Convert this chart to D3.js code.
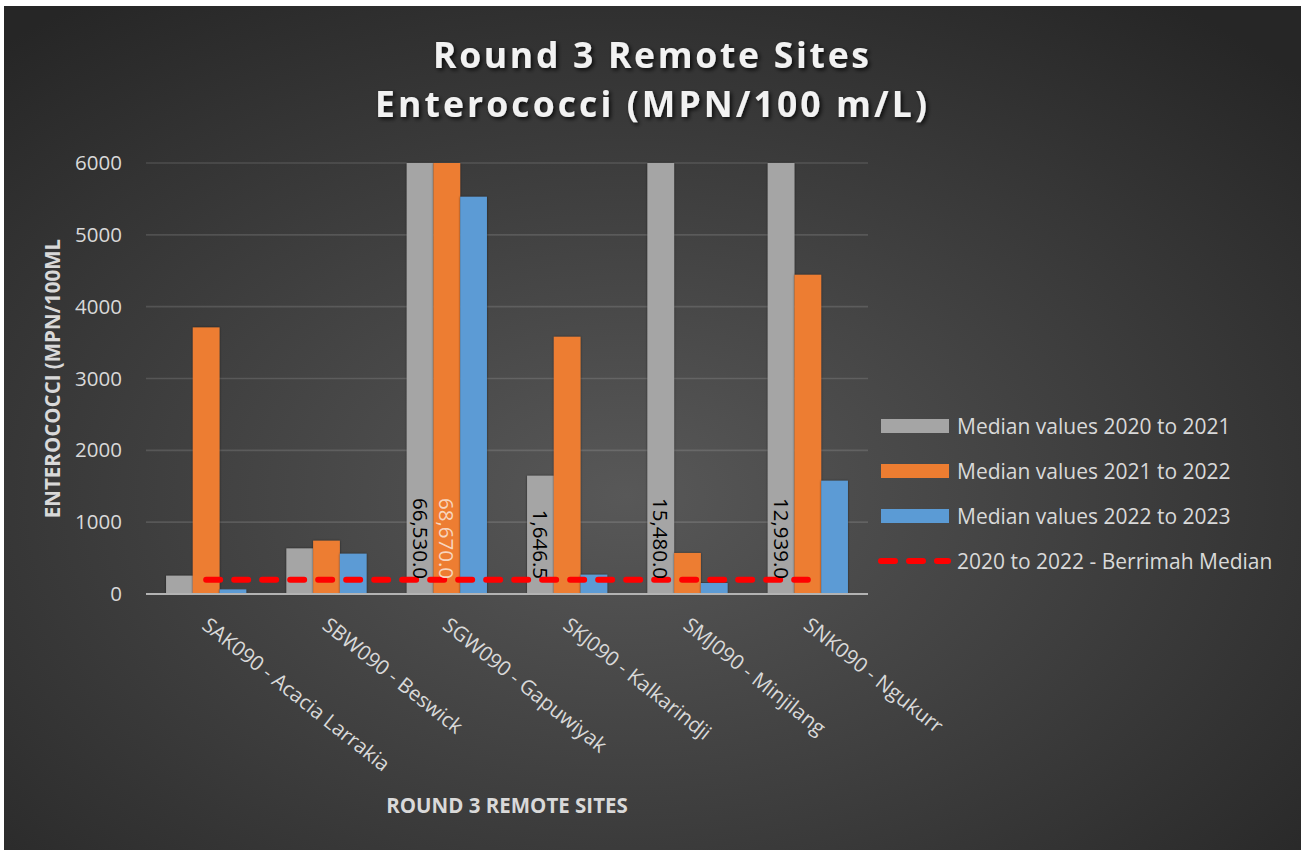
<!DOCTYPE html>
<html>
<head>
<meta charset="utf-8">
<script src="https://cdn.jsdelivr.net/npm/d3@7"></script>
<style>
  html, body { margin: 0; padding: 0; background: #ffffff; }
  svg { display: block; }
  text { font-family: "Open Sans", Lato, sans-serif; }
</style>
</head>
<body>
<svg id="chart" width="1301" height="850"></svg>
<script>
// Sites sampled in round 3
const categories = [
  "SAK090 - Acacia Larrakia",
  "SBW090 - Beswick",
  "SGW090 - Gapuwiyak",
  "SKJ090 - Kalkarindji",
  "SMJ090 - Minjilang",
  "SNK090 - Ngukurr"
];

// Median Enterococci per site (MPN/100 mL)
const seriesNames = [
  "Median values 2020 to 2021",
  "Median values 2021 to 2022",
  "Median values 2022 to 2023"
];
const median2020to2021 = [255, 635, 66530, 1646.5, 15480, 12939];
const median2021to2022 = [3711, 742, 68670, 3581, 571, 4444];
const median2022to2023 = [64, 561, 5530, 269, 153, 1577];

// Reference line
const lineName = "2020 to 2022 - Berrimah Median";
const berrimahMedian = [200, 200, 200, 200, 200, 200];

// Value axis
const yTicks = [0, 1000, 2000, 3000, 4000, 5000, 6000];
const yMax = 6000;

// Bars carrying a value label: [series index, category index]
const labelledBars = [[0, 2], [1, 2], [0, 3], [0, 4], [0, 5]];

const seriesValues = [median2020to2021, median2021to2022, median2022to2023];
const seriesColors = ["#a5a5a5", "#ed7d31", "#5b9bd5"];
const labelColors = ["#000000", "#f7d6bf", "#000000"];

const W = 1301, H = 850;
const plot = { left: 146, right: 868, top: 163, bottom: 594 };
const textColor = "#d9d9d9";

const svg = d3.select("#chart");
const defs = svg.append("defs");

// Dark radial background
const grad = defs.append("radialGradient")
  .attr("id", "bg").attr("cx", "48%").attr("cy", "58%").attr("r", "72%");
grad.append("stop").attr("offset", "0%").attr("stop-color", "#585858");
grad.append("stop").attr("offset", "100%").attr("stop-color", "#262626");

const barShadow = defs.append("filter").attr("id", "barShadow")
  .attr("x", "-20%").attr("y", "-5%").attr("width", "140%").attr("height", "110%");
barShadow.append("feDropShadow").attr("dx", 0).attr("dy", 0)
  .attr("stdDeviation", 1.2).attr("flood-color", "#000").attr("flood-opacity", 0.55);

const titleShadow = defs.append("filter").attr("id", "titleShadow")
  .attr("x", "-10%").attr("y", "-30%").attr("width", "120%").attr("height", "160%");
titleShadow.append("feDropShadow").attr("dx", 2).attr("dy", 2)
  .attr("stdDeviation", 2).attr("flood-color", "#000").attr("flood-opacity", 0.8);

svg.append("rect")
  .attr("x", 4).attr("y", 6).attr("width", W - 4).attr("height", H - 6)
  .attr("fill", "url(#bg)");

// Scales
const x = d3.scaleBand()
  .domain(d3.range(categories.length))
  .range([plot.left, plot.right])
  .paddingInner(1 / 3)
  .paddingOuter(1 / 6);
const xs = d3.scaleBand()
  .domain(d3.range(seriesValues.length))
  .range([0, x.bandwidth()]);
const y = d3.scaleLinear()
  .domain([0, yMax])
  .range([plot.bottom, plot.top])
  .clamp(true);

// Gridlines
svg.append("g")
  .selectAll("line")
  .data(yTicks.filter(t => t > 0))
  .join("line")
  .attr("x1", plot.left).attr("x2", plot.right)
  .attr("y1", d => y(d)).attr("y2", d => y(d))
  .attr("stroke", "rgba(255,255,255,0.13)")
  .attr("stroke-width", 1.6);

// Y tick labels
const yAxis = svg.append("g")
  .attr("transform", `translate(${plot.left - 24},0)`)
  .call(d3.axisLeft(y).tickValues(yTicks).tickSize(0).tickPadding(0).tickFormat(d3.format("d")));
yAxis.select(".domain").remove();
yAxis.selectAll("text")
  .attr("fill", textColor)
  .style("font-size", "20.5px")
  .style("font-family", "'Open Sans', sans-serif");

// Bars
const groups = svg.append("g")
  .selectAll("g")
  .data(categories.map((c, i) => i))
  .join("g")
  .attr("transform", i => `translate(${x(i)},0)`);

groups.selectAll("rect")
  .data(i => seriesValues.map((vals, s) => ({ s, i, v: vals[i] })))
  .join("rect")
  .attr("x", d => xs(d.s))
  .attr("width", xs.bandwidth())
  .attr("y", d => y(d.v))
  .attr("height", d => plot.bottom - y(d.v))
  .attr("fill", d => seriesColors[d.s])
  .attr("filter", "url(#barShadow)");

// Category axis line
svg.append("line")
  .attr("x1", plot.left).attr("x2", plot.right)
  .attr("y1", plot.bottom).attr("y2", plot.bottom)
  .attr("stroke", "#b3b3b3")
  .attr("stroke-width", 2);

// Berrimah median reference line
const line = d3.line()
  .x((d, i) => x(i) + x.bandwidth() / 2)
  .y(d => y(d));
svg.append("path")
  .datum(berrimahMedian)
  .attr("d", line)
  .attr("fill", "none")
  .attr("stroke", "#ff0000")
  .attr("stroke-width", 6)
  .attr("stroke-linecap", "round")
  .attr("stroke-dasharray", "14 14");

// Value labels, rotated, sitting at the base of the bars
const fmt = d3.format(",.1f");
svg.append("g")
  .selectAll("text")
  .data(labelledBars)
  .join("text")
  .attr("transform", ([s, i]) =>
    `translate(${x(i) + xs(s) + xs.bandwidth() / 2},${y(0) - 15}) rotate(90)`)
  .attr("text-anchor", "end")
  .attr("dy", "0.36em")
  .attr("fill", ([s]) => labelColors[s])
  .style("font-size", "20.5px")
  .text(([s, i]) => fmt(seriesValues[s][i]));

// Slanted category labels
svg.append("g")
  .selectAll("text")
  .data(categories)
  .join("text")
  .attr("transform", (d, i) => `translate(${x(i) + x.bandwidth() / 2 - 1},622) rotate(38.5)`)
  .attr("dy", "0.35em")
  .attr("fill", textColor)
  .style("font-size", "20.5px")
  .text(d => d);

// Axis titles
svg.append("text")
  .attr("transform", `translate(60,${(plot.top + plot.bottom) / 2}) rotate(-90)`)
  .attr("text-anchor", "middle")
  .attr("fill", textColor)
  .style("font-size", "20.5px")
  .style("font-weight", "700")
  .text("ENTEROCOCCI (MPN/100ML");

svg.append("text")
  .attr("x", (plot.left + plot.right) / 2)
  .attr("y", 813)
  .attr("text-anchor", "middle")
  .attr("fill", textColor)
  .style("font-size", "20.5px")
  .style("font-weight", "700")
  .text("ROUND 3 REMOTE SITES");

// Chart title
const titleLines = ["Round 3 Remote Sites", "Enterococci (MPN/100 m/L)"];
const titleWidths = [436, 552];
svg.append("g")
  .attr("filter", "url(#titleShadow)")
  .selectAll("text")
  .data(titleLines)
  .join("text")
  .attr("x", 651)
  .attr("y", (d, i) => 68 + i * 49)
  .attr("text-anchor", "middle")
  .attr("fill", "#f2f2f2")
  .attr("textLength", (d, i) => titleWidths[i])
  .attr("lengthAdjust", "spacing")
  .style("font-size", "35.5px")
  .style("font-weight", "700")
  .text(d => d);

// Legend
const legendItems = seriesNames.map((n, s) => ({ name: n, type: "bar", color: seriesColors[s] }))
  .concat([{ name: lineName, type: "line", color: "#ff0000" }]);
const legend = svg.append("g").attr("transform", "translate(881,426)");
const li = legend.selectAll("g")
  .data(legendItems)
  .join("g")
  .attr("transform", (d, i) => `translate(0,${i * 45})`);
li.filter(d => d.type === "bar").append("rect")
  .attr("x", 0).attr("y", -7).attr("width", 68).attr("height", 14)
  .attr("fill", d => d.color);
li.filter(d => d.type === "line").append("line")
  .attr("x1", 0).attr("x2", 67).attr("y1", 0).attr("y2", 0)
  .attr("stroke", d => d.color)
  .attr("stroke-width", 6)
  .attr("stroke-linecap", "round")
  .attr("stroke-dasharray", "14 14");
li.append("text")
  .attr("x", 76)
  .attr("dy", "0.36em")
  .attr("fill", textColor)
  .style("font-size", "21px")
  .text(d => d.name);
</script>
</body>
</html>
